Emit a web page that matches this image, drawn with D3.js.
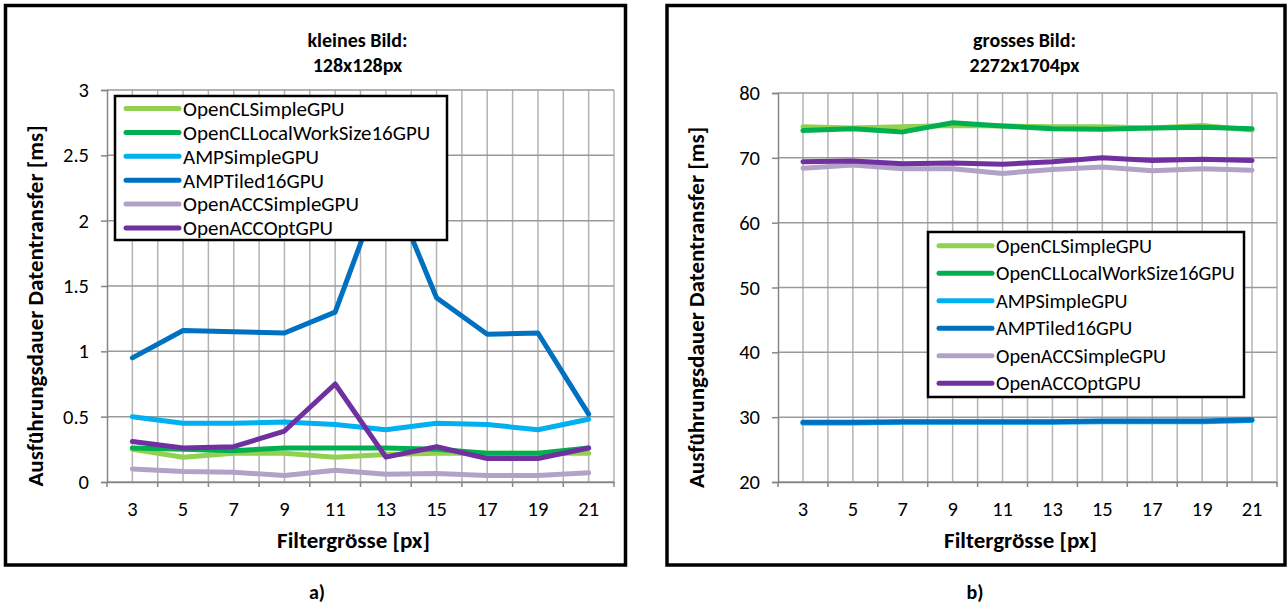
<!DOCTYPE html>
<html>
<head>
<meta charset="utf-8">
<script src="https://cdn.jsdelivr.net/npm/d3@7"></script>
<style>
  html, body { margin: 0; padding: 0; background: #fff; }
  svg { display: block; }
  text { font-family: Carlito, Calibri, Lato, "Open Sans", sans-serif; fill: #000; }
</style>
</head>
<body>
<svg id="chart" width="1287" height="606"></svg>
<script>
// Filter sizes on the category axis
const filterSizes = ["3", "5", "7", "9", "11", "13", "15", "17", "19", "21"];

// Series names and colours (drawing order = legend order)
const seriesNames = ["OpenCLSimpleGPU", "OpenCLLocalWorkSize16GPU", "AMPSimpleGPU",
                     "AMPTiled16GPU", "OpenACCSimpleGPU", "OpenACCOptGPU"];
const seriesColors = ["#92D050", "#00B050", "#00B0F0", "#0070C0", "#B3A2C7", "#7030A0"];

// Small image 128x128px, transfer time [ms]
const smallOpenCLSimple   = [0.25, 0.19, 0.22, 0.22, 0.19, 0.21, 0.22, 0.22, 0.22, 0.22];
const smallOpenCLLocal16  = [0.26, 0.25, 0.24, 0.26, 0.26, 0.26, 0.25, 0.22, 0.22, 0.26];
const smallAMPSimple      = [0.50, 0.45, 0.45, 0.46, 0.44, 0.40, 0.45, 0.44, 0.40, 0.48];
const smallAMPTiled16     = [0.95, 1.16, 1.15, 1.14, 1.30, 2.35, 1.41, 1.13, 1.14, 0.52];
const smallOpenACCSimple  = [0.10, 0.08, 0.075, 0.05, 0.09, 0.06, 0.065, 0.05, 0.05, 0.07];
const smallOpenACCOpt     = [0.31, 0.26, 0.27, 0.39, 0.75, 0.19, 0.27, 0.18, 0.18, 0.26];

// Large image 2272x1704px, transfer time [ms]
const largeOpenCLSimple   = [74.8, 74.6, 74.8, 75.0, 74.9, 74.8, 74.8, 74.6, 75.0, 74.3];
const largeOpenCLLocal16  = [74.2, 74.5, 74.0, 75.4, 74.9, 74.5, 74.4, 74.6, 74.7, 74.5];
const largeAMPSimple      = [29.1, 29.1, 29.2, 29.2, 29.2, 29.2, 29.3, 29.3, 29.3, 29.5];
const largeAMPTiled16     = [29.2, 29.2, 29.3, 29.3, 29.3, 29.3, 29.4, 29.4, 29.4, 29.6];
const largeOpenACCSimple  = [68.4, 68.9, 68.3, 68.3, 67.6, 68.2, 68.6, 68.0, 68.3, 68.1];
const largeOpenACCOpt     = [69.4, 69.5, 69.1, 69.2, 69.0, 69.4, 70.0, 69.6, 69.8, 69.6];

// Axis tick values
const smallTicks = [0, 0.5, 1, 1.5, 2, 2.5, 3];
const largeTicks = [20, 30, 40, 50, 60, 70, 80];

const svg = d3.select("#chart");

function drawPanel(cfg) {
  const g = svg.append("g");

  // outer frame
  g.append("rect")
    .attr("x", cfg.frame[0]).attr("y", cfg.frame[1])
    .attr("width", cfg.frame[2]).attr("height", cfg.frame[3])
    .attr("fill", "#fff").attr("stroke", "#000").attr("stroke-width", 3.5);

  const x = d3.scaleBand().domain(filterSizes).range([cfg.left, cfg.right]).padding(0);
  const y = d3.scaleLinear().domain(cfg.domain).range([cfg.bottom, cfg.top]);
  const cx = d => x(d) + x.bandwidth() / 2;

  // vertical grid: category centres and band boundaries
  const vLines = [];
  filterSizes.forEach(c => { vLines.push(x(c) + x.bandwidth() / 2); vLines.push(x(c) + x.bandwidth()); });
  g.append("g").selectAll("line").data(vLines).join("line")
    .attr("x1", d => d).attr("x2", d => d)
    .attr("y1", cfg.top).attr("y2", cfg.bottom)
    .attr("stroke", "#B4B4B4").attr("stroke-width", 1.5);

  // horizontal grid
  g.append("g").selectAll("line").data(cfg.ticks).join("line")
    .attr("x1", cfg.left).attr("x2", cfg.right)
    .attr("y1", d => y(d)).attr("y2", d => y(d))
    .attr("stroke", "#9A9A9A").attr("stroke-width", 1.5);

  // y axis
  const yAxis = g.append("g")
    .attr("transform", `translate(${cfg.left},0)`)
    .call(d3.axisLeft(y).tickValues(cfg.ticks).tickSize(6).tickPadding(12)
      .tickFormat(d => String(d)));
  yAxis.select(".domain").attr("stroke", "#868686").attr("stroke-width", 1.5);
  yAxis.selectAll(".tick line").attr("stroke", "#868686").attr("stroke-width", 1.5);
  yAxis.selectAll(".tick text").attr("font-size", 20.5).attr("font-family", null).attr("fill", "#000");

  // x axis (ticks at band boundaries)
  const xAxis = g.append("g")
    .attr("transform", `translate(0,${cfg.bottom})`)
    .call(d3.axisBottom(x).tickSize(0).tickPadding(19));
  xAxis.select(".domain").attr("stroke", "#868686").attr("stroke-width", 1.5);
  xAxis.selectAll(".tick text").attr("font-size", 20.5).attr("font-family", null).attr("fill", "#000");
  const bounds = [cfg.left].concat(filterSizes.map(c => x(c) + x.bandwidth()));
  g.append("g").selectAll("line").data(bounds).join("line")
    .attr("x1", d => d).attr("x2", d => d)
    .attr("y1", cfg.bottom).attr("y2", cfg.bottom + 5)
    .attr("stroke", "#868686").attr("stroke-width", 1.5);

  // series lines
  const line = d3.line().x((d, i) => cx(filterSizes[i])).y(d => y(d));
  cfg.series.forEach((vals, k) => {
    g.append("path").datum(vals)
      .attr("d", line)
      .attr("fill", "none")
      .attr("stroke", seriesColors[k])
      .attr("stroke-width", 5)
      .attr("stroke-linejoin", "round")
      .attr("stroke-linecap", "round");
  });

  // title
  const midX = (cfg.left + cfg.right) / 2 - 3;
  g.append("text").attr("x", midX).attr("y", 47).attr("text-anchor", "middle")
    .attr("font-size", 20).attr("font-weight", "bold").text(cfg.title[0]);
  g.append("text").attr("x", midX).attr("y", 72).attr("text-anchor", "middle")
    .attr("font-size", 20).attr("font-weight", "bold").text(cfg.title[1]);

  // axis titles
  g.append("text").attr("x", midX - 4).attr("y", 548).attr("text-anchor", "middle")
    .attr("font-size", 23).attr("font-weight", "bold").text("Filtergrösse [px]");
  g.append("text")
    .attr("transform", `translate(${cfg.yTitleX},${(cfg.top + cfg.bottom) / 2 + 20}) rotate(-90)`)
    .attr("text-anchor", "middle")
    .attr("font-size", 23).attr("font-weight", "bold").text("Ausführungsdauer Datentransfer [ms]");

  // legend
  const L = cfg.legend;
  const lg = g.append("g");
  lg.append("rect").attr("x", L.x).attr("y", L.y).attr("width", L.w).attr("height", L.h)
    .attr("fill", "#fff").attr("stroke", "#000").attr("stroke-width", 2.5);
  seriesNames.forEach((name, k) => {
    const ry = L.row0 + k * L.step;
    lg.append("line").attr("x1", L.x + 11).attr("x2", L.x + 64)
      .attr("y1", ry).attr("y2", ry)
      .attr("stroke", seriesColors[k]).attr("stroke-width", 5).attr("stroke-linecap", "round");
    lg.append("text").attr("x", L.x + 68).attr("y", ry).attr("dy", "0.35em")
      .attr("font-size", L.fontSize).text(name);
  });

  // panel label
  g.append("text").attr("x", cfg.labelX).attr("y", 599).attr("text-anchor", "middle")
    .attr("font-size", 20).attr("font-weight", "bold").text(cfg.label);
}

drawPanel({
  frame: [5.5, 5.5, 620, 559.5],
  left: 107, right: 614, top: 90, bottom: 482,
  domain: [0, 3], ticks: smallTicks,
  series: [smallOpenCLSimple, smallOpenCLLocal16, smallAMPSimple, smallAMPTiled16, smallOpenACCSimple, smallOpenACCOpt],
  title: ["kleines Bild:", "128x128px"],
  yTitleX: 43,
  legend: { x: 115, y: 96, w: 332, h: 144, row0: 108.5, step: 23.9, fontSize: 21 },
  label: "a)", labelX: 317
});

drawPanel({
  frame: [667, 5.5, 618, 559.5],
  left: 778, right: 1277, top: 93, bottom: 482,
  domain: [20, 80], ticks: largeTicks,
  series: [largeOpenCLSimple, largeOpenCLLocal16, largeAMPSimple, largeAMPTiled16, largeOpenACCSimple, largeOpenACCOpt],
  title: ["grosses Bild:", "2272x1704px"],
  yTitleX: 704,
  legend: { x: 928, y: 232, w: 316, h: 165, row0: 245.7, step: 27.5, fontSize: 20.3 },
  label: "b)", labelX: 975
});
</script>
</body>
</html>
